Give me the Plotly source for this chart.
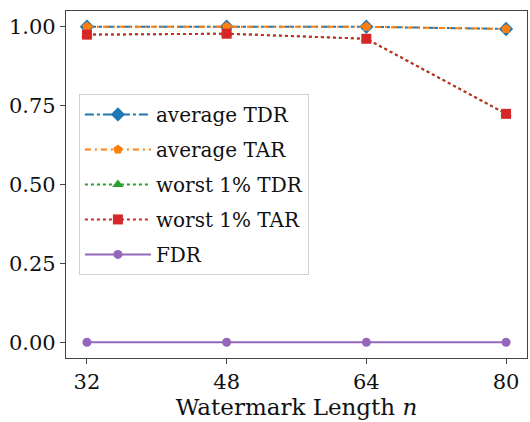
import plotly.graph_objects as go

# Watermark lengths evaluated
lengths = [32, 48, 64, 80]

# Detection / attribution rates per watermark length
avg_tdr = [1.0, 1.0, 1.0, 0.993]
avg_tar = [1.0, 1.0, 1.0, 0.993]
worst_tdr = [0.975, 0.978, 0.962, 0.724]
worst_tar = [0.975, 0.978, 0.962, 0.724]
fdr = [0.0, 0.0, 0.0, 0.0]

y_ticks = [0.0, 0.25, 0.5, 0.75, 1.0]
y_tick_text = ["0.00", "0.25", "0.50", "0.75", "1.00"]

FONT = "'DejaVu Serif', 'Liberation Serif', serif"

series = [
    ("average TDR", avg_tdr, "#1f77b4", "dashdot", "diamond", 11),
    ("average TAR", avg_tar, "#ff7f0e", "6px,4px,2px,4px", "pentagon", 10),
    ("worst 1% TDR", worst_tdr, "#2ca02c", "dot", "triangle-up", 10),
    ("worst 1% TAR", worst_tar, "#d62728", "dot", "square", 10),
    ("FDR", fdr, "#9467bd", "solid", "circle", 9),
]

fig = go.Figure()
for name, vals, color, dash, symbol, msize in series:
    fig.add_trace(go.Scatter(
        x=lengths, y=vals, name=name, legendgroup=name,
        mode="lines+markers",
        line=dict(color=color, width=2, dash=dash),
        marker=dict(symbol=symbol, size=msize, color=color),
    ))

axis_common = dict(
    showline=True, mirror=True, linecolor="#444", linewidth=1.3,
    ticks="outside", ticklen=5, tickcolor="#444", showgrid=False,
    zeroline=False, tickfont=dict(family=FONT, size=21, color="#111"),
)

fig.update_layout(
    width=530, height=422,
    margin=dict(l=66, r=3, t=11, b=64),
    paper_bgcolor="white", plot_bgcolor="white",
    font=dict(family=FONT, color="#111"),
    xaxis=dict(
        range=[29.6, 82.4], tickvals=lengths,
        title=dict(text="Watermark Length <i>n</i>", font=dict(family=FONT, size=23, color="#111"), standoff=5),
        **axis_common,
    ),
    yaxis=dict(
        range=[-0.05, 1.05], tickvals=y_ticks, ticktext=y_tick_text,
        **axis_common,
    ),
    legend=dict(
        x=0.028, y=0.761, xanchor="left", yanchor="top",
        bgcolor="white", bordercolor="#d0d0d0", borderwidth=1,
        font=dict(family=FONT, size=20, color="#111"),
        traceorder="grouped", tracegroupgap=6, itemwidth=66,
    ),
    showlegend=True,
)

fig.write_html("out.html")
